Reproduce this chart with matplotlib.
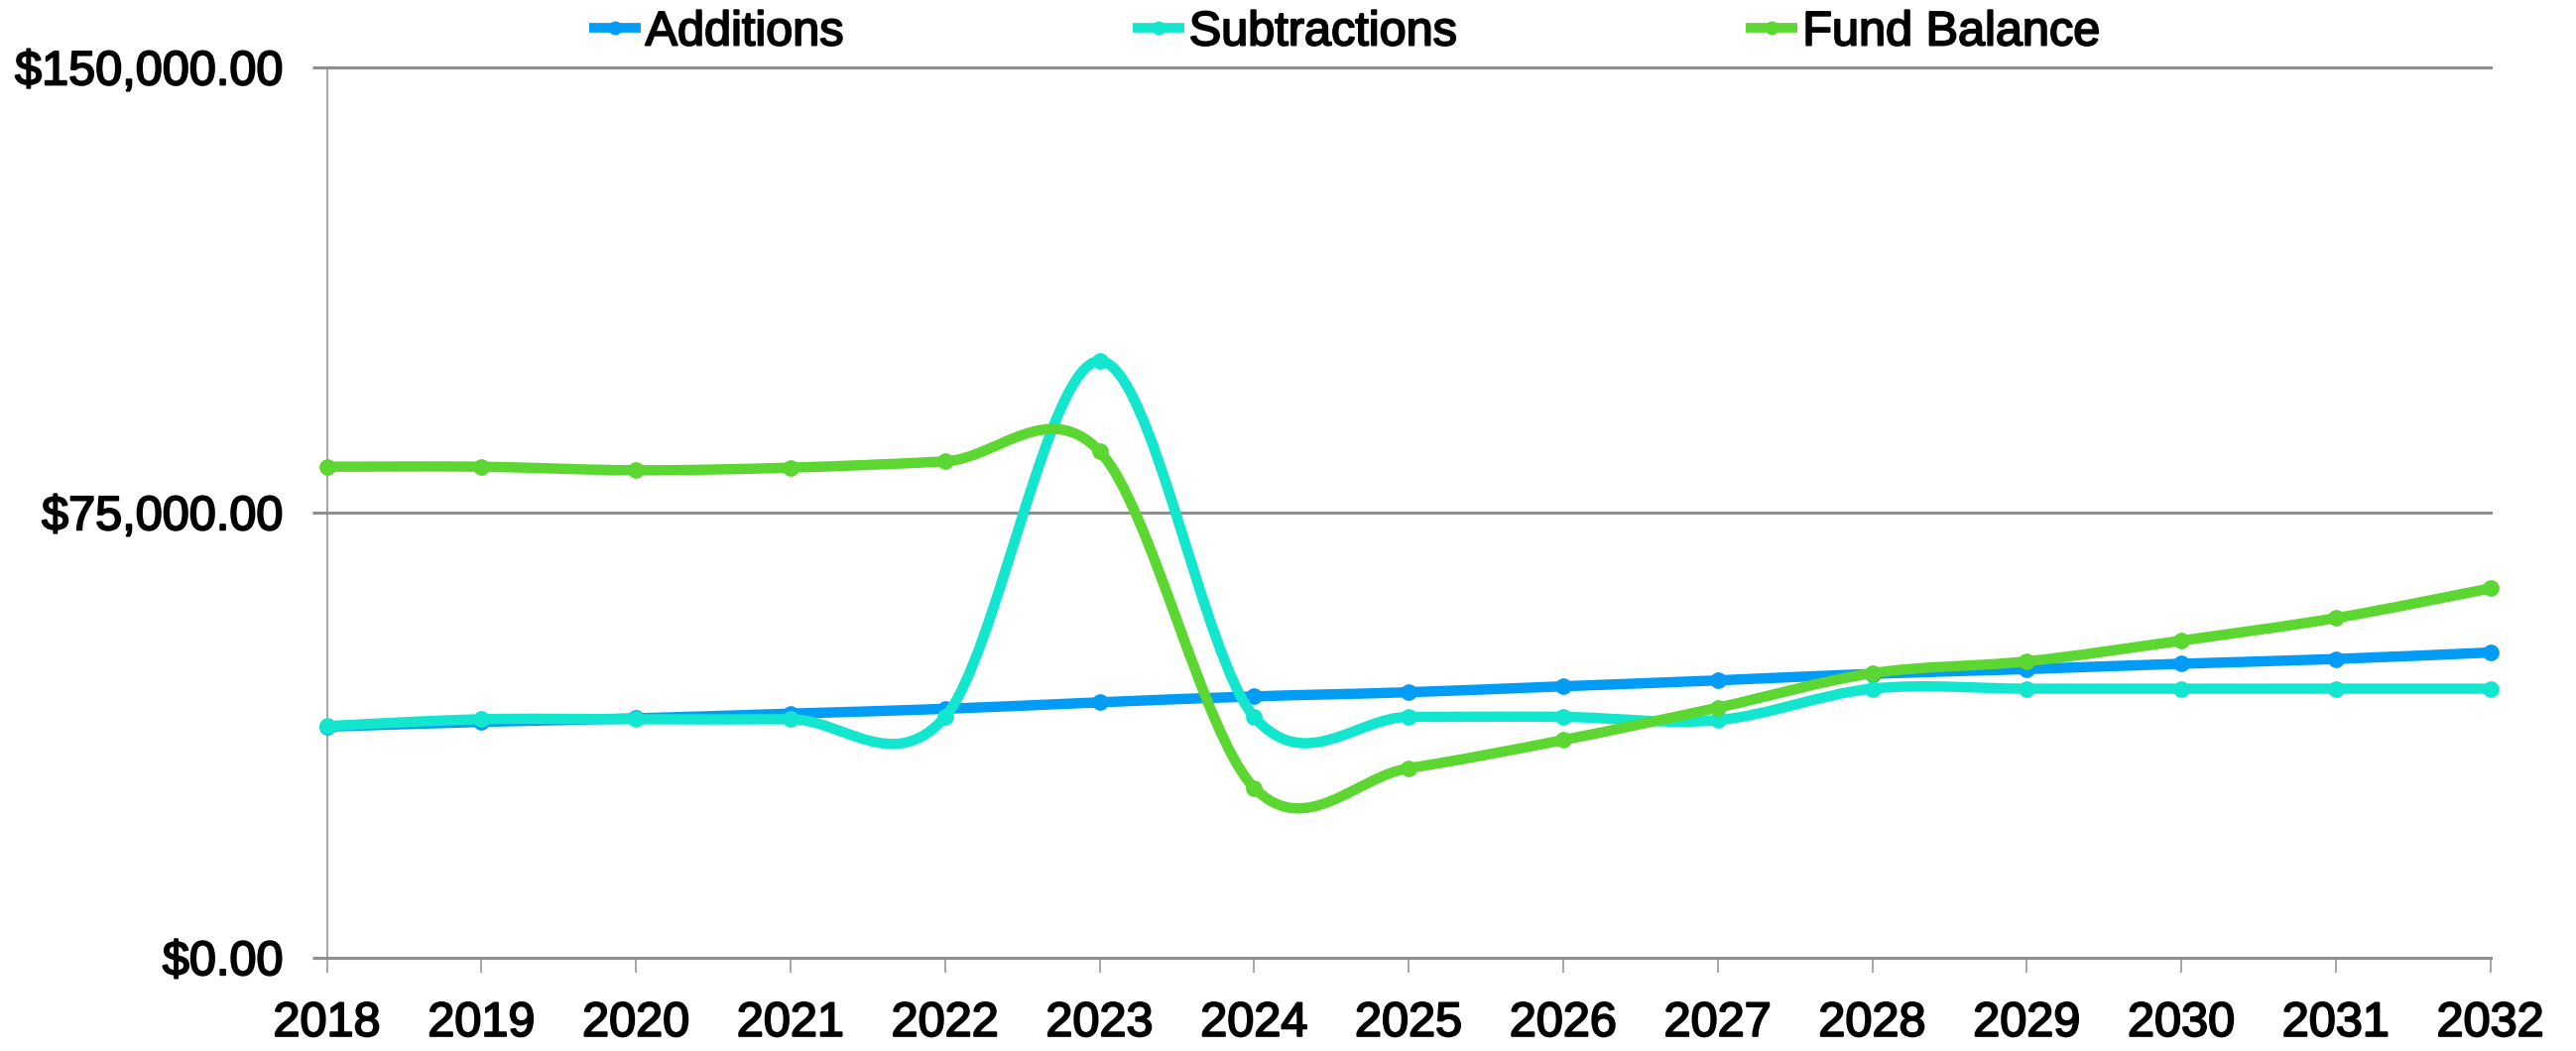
import matplotlib
matplotlib.use("Agg")
import matplotlib.pyplot as plt
import matplotlib.patheffects as pe
from matplotlib.path import Path
from matplotlib.patches import PathPatch
from matplotlib.lines import Line2D
from matplotlib.ticker import FuncFormatter
import numpy as np

plt.rcParams['font.family'] = ['Liberation Sans', 'DejaVu Sans']

# ---- data ----
years = [2018, 2019, 2020, 2021, 2022, 2023, 2024, 2025,
         2026, 2027, 2028, 2029, 2030, 2031, 2032]
additions = [38900, 39700, 40300, 41100, 41900, 43000, 44000, 44700,
             45700, 46700, 47800, 48600, 49500, 50300, 51400]
subtractions = [39000, 40150, 40150, 40150, 40550, 100500, 40550, 40550,
                40550, 40000, 45300, 45300, 45300, 45300, 45300]
fund_balance = [82700, 82700, 82100, 82550, 83600, 85300, 28600, 31900,
                36650, 42100, 47900, 49900, 53400, 57200, 62200]
series_names = ["Additions", "Subtractions", "Fund Balance"]
series_colors = ["#009CF6", "#13E6CE", "#5CD631"]
y_ticks = [0, 75000, 150000]

GRID = "#8E8E8E"
FS = 35
BOLDEN = [pe.withStroke(linewidth=1.4, foreground="black")]


def smooth_path(xs, ys):
    """Bezier path through the points with Catmull-Rom style tangents."""
    xs = np.asarray(xs, float)
    ys = np.asarray(ys, float)
    n = len(xs)
    verts = [(xs[0], ys[0])]
    codes = [Path.MOVETO]
    for i in range(n - 1):
        p0 = max(i - 1, 0)
        p3 = min(i + 2, n - 1)
        c1 = (xs[i] + (xs[i + 1] - xs[p0]) / 6.0,
              ys[i] + (ys[i + 1] - ys[p0]) / 6.0)
        c2 = (xs[i + 1] - (xs[p3] - xs[i]) / 6.0,
              ys[i + 1] - (ys[p3] - ys[i]) / 6.0)
        verts += [c1, c2, (xs[i + 1], ys[i + 1])]
        codes += [Path.CURVE4, Path.CURVE4, Path.CURVE4]
    return Path(verts, codes)


fig = plt.figure(figsize=(25.97, 10.60), dpi=100)
ax = fig.add_axes([0.12692, 0.08896, 0.83985, 0.84698])

ax.set_xlim(years[0], years[-1])
ax.set_ylim(0, 150000)

for vals, color in zip([additions, subtractions, fund_balance], series_colors):
    patch = PathPatch(smooth_path(years, vals), facecolor="none",
                      edgecolor=color, linewidth=7.5, capstyle="round",
                      joinstyle="round", clip_on=False, zorder=3)
    ax.add_patch(patch)
    ax.plot(years, vals, linestyle="none", marker="o", ms=11,
            color=color, clip_on=False, zorder=3)

# axes styling
for side in ["top", "right", "bottom"]:
    ax.spines[side].set_visible(False)
ax.spines["left"].set_color(GRID)
ax.spines["left"].set_linewidth(1.1)

ax.set_yticks(y_ticks)
ax.yaxis.set_major_formatter(FuncFormatter(lambda v, p: "${:,.2f}".format(v)))
ax.set_xticks(years)
ax.set_xticklabels([str(y) for y in years])

ax.yaxis.grid(True, color=GRID, lw=2.2)
for gl in ax.get_ygridlines():
    gl.set_clip_on(False)
ax.set_axisbelow(True)

ax.tick_params(axis="y", length=10.8, width=2.2, color=GRID, pad=21,
               labelsize=FS, labelcolor="black")
ax.tick_params(axis="x", length=10.8, width=1.1, color=GRID, pad=21,
               labelsize=FS, labelcolor="black")
for lbl in ax.get_xticklabels() + ax.get_yticklabels():
    lbl.set_path_effects(BOLDEN)

handles = [Line2D([], [], color=c, lw=7, marker="o", ms=9,
                  solid_capstyle="butt") for c in series_colors]
leg = fig.legend(handles, series_names, loc="center",
                 bbox_to_anchor=(0.5220, 1 - 33 / 1060), ncol=3,
                 frameon=False, fontsize=FS, handlelength=1.07,
                 handletextpad=0.1, columnspacing=6.0, borderpad=0,
                 borderaxespad=0)
for t in leg.get_texts():
    t.set_path_effects(BOLDEN)

fig.savefig("out.png", dpi=100, facecolor="white")
